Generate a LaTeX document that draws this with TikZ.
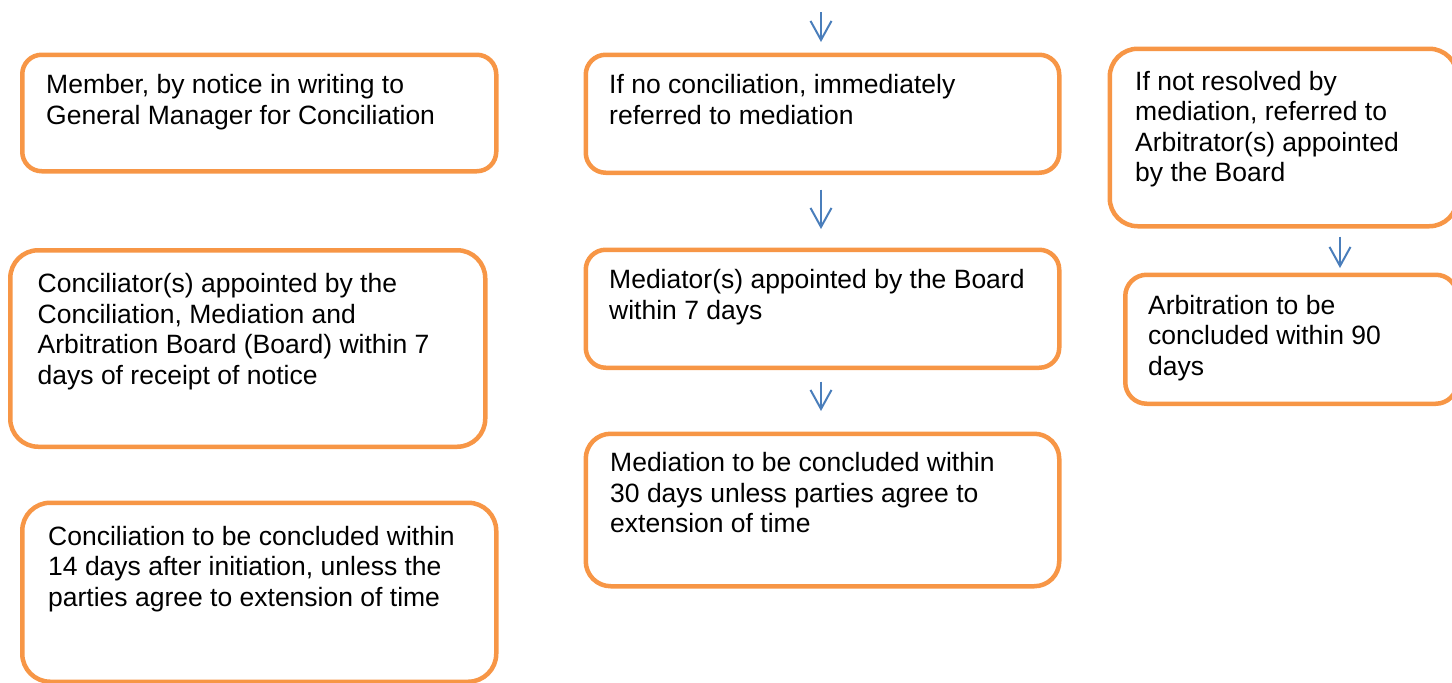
\documentclass[tikz,border=0pt]{standalone}
\usepackage{fontspec}
\setmainfont{Liberation Sans}
\usetikzlibrary{arrows.meta}
\definecolor{boxorange}{HTML}{F79646}
\definecolor{arrowblue}{HTML}{4A7EBB}
\tikzset{
  stepbox/.style={draw=boxorange, line width=4.5pt, anchor=north west, inner sep=0pt, fill=white},
  boxtext/.style={anchor=north west, inner sep=0pt, align=left, font=\fontsize{26.5}{30.5}\selectfont},
  flow/.style={draw=arrowblue, line width=2pt, -{Straight Barb[length=19pt,width=21pt]}},
}
\begin{document}
\begin{tikzpicture}[x=1pt,y=-1pt]
\useasboundingbox (0,0) rectangle (1452,683);
% left column
\node[stepbox, minimum width=474pt, minimum height=116.5pt, rounded corners=19.5pt] (b1) at (20,52.5) {};
\node[boxtext] (t1) at (46,72) {\strut Member, by notice in writing to\\General Manager for Conciliation};
\node[stepbox, minimum width=475pt, minimum height=196.5pt, rounded corners=28pt] (b2) at (8,248) {};
\node[boxtext] (t2) at (37.5,271) {\strut Conciliator(s) appointed by the\\Conciliation, Mediation and\\Arbitration Board (Board) within 7\\days of receipt of notice};
\node[stepbox, minimum width=474pt, minimum height=179pt, rounded corners=28pt] (b3) at (20,500.5) {};
\node[boxtext] (t3) at (48,523.6) {\strut Conciliation to be concluded within\\14 days after initiation, unless the\\parties agree to extension of time};
% middle column
\node[stepbox, minimum width=473.5pt, minimum height=118pt, rounded corners=20pt] (b4) at (583.5,52.5) {};
\node[boxtext] (t4) at (609,72) {\strut If no conciliation, immediately\\referred to mediation};
\node[stepbox, minimum width=473.5pt, minimum height=118pt, rounded corners=20pt] (b5) at (583.5,247.5) {};
\node[boxtext] (t5) at (609,267.2) {\strut Mediator(s) appointed by the Board\\within 7 days};
\node[stepbox, minimum width=473.5pt, minimum height=152.5pt, rounded corners=25pt] (b6) at (583.5,431.5) {};
\node[boxtext] (t6) at (610,450.4) {\strut Mediation to be concluded within\\30 days unless parties agree to\\extension of time};
% right column
\node[stepbox, minimum width=347.5pt, minimum height=177.5pt, rounded corners=28pt] (b7) at (1107.5,46.5) {};
\node[boxtext] (t7) at (1135,68.6) {\strut If not resolved by\\mediation, referred to\\Arbitrator(s) appointed\\by the Board};
\node[stepbox, minimum width=332pt, minimum height=129pt, rounded corners=21.5pt] (b8) at (1123,272.5) {};
\node[boxtext] (t8) at (1148,292.6) {\strut Arbitration to be\\concluded within 90\\days};
% connectors
\coordinate (top) at (821,12);
\coordinate (colB) at (821,0);
\coordinate (colC) at (1340,0);
\draw[flow, shorten >=10.5pt] (top) -- (b4.north -| colB);
\draw[flow, shorten <=14.5pt, shorten >=18.5pt] (b4.south -| colB) -- (b5.north -| colB);
\draw[flow, shorten <=11.5pt, shorten >=20.5pt] (b5.south -| colB) -- (b6.north -| colB);
\draw[flow, shorten <=8pt, shorten >=4.5pt] (b7.south -| colC) -- (b8.north -| colC);
\end{tikzpicture}
\end{document}
